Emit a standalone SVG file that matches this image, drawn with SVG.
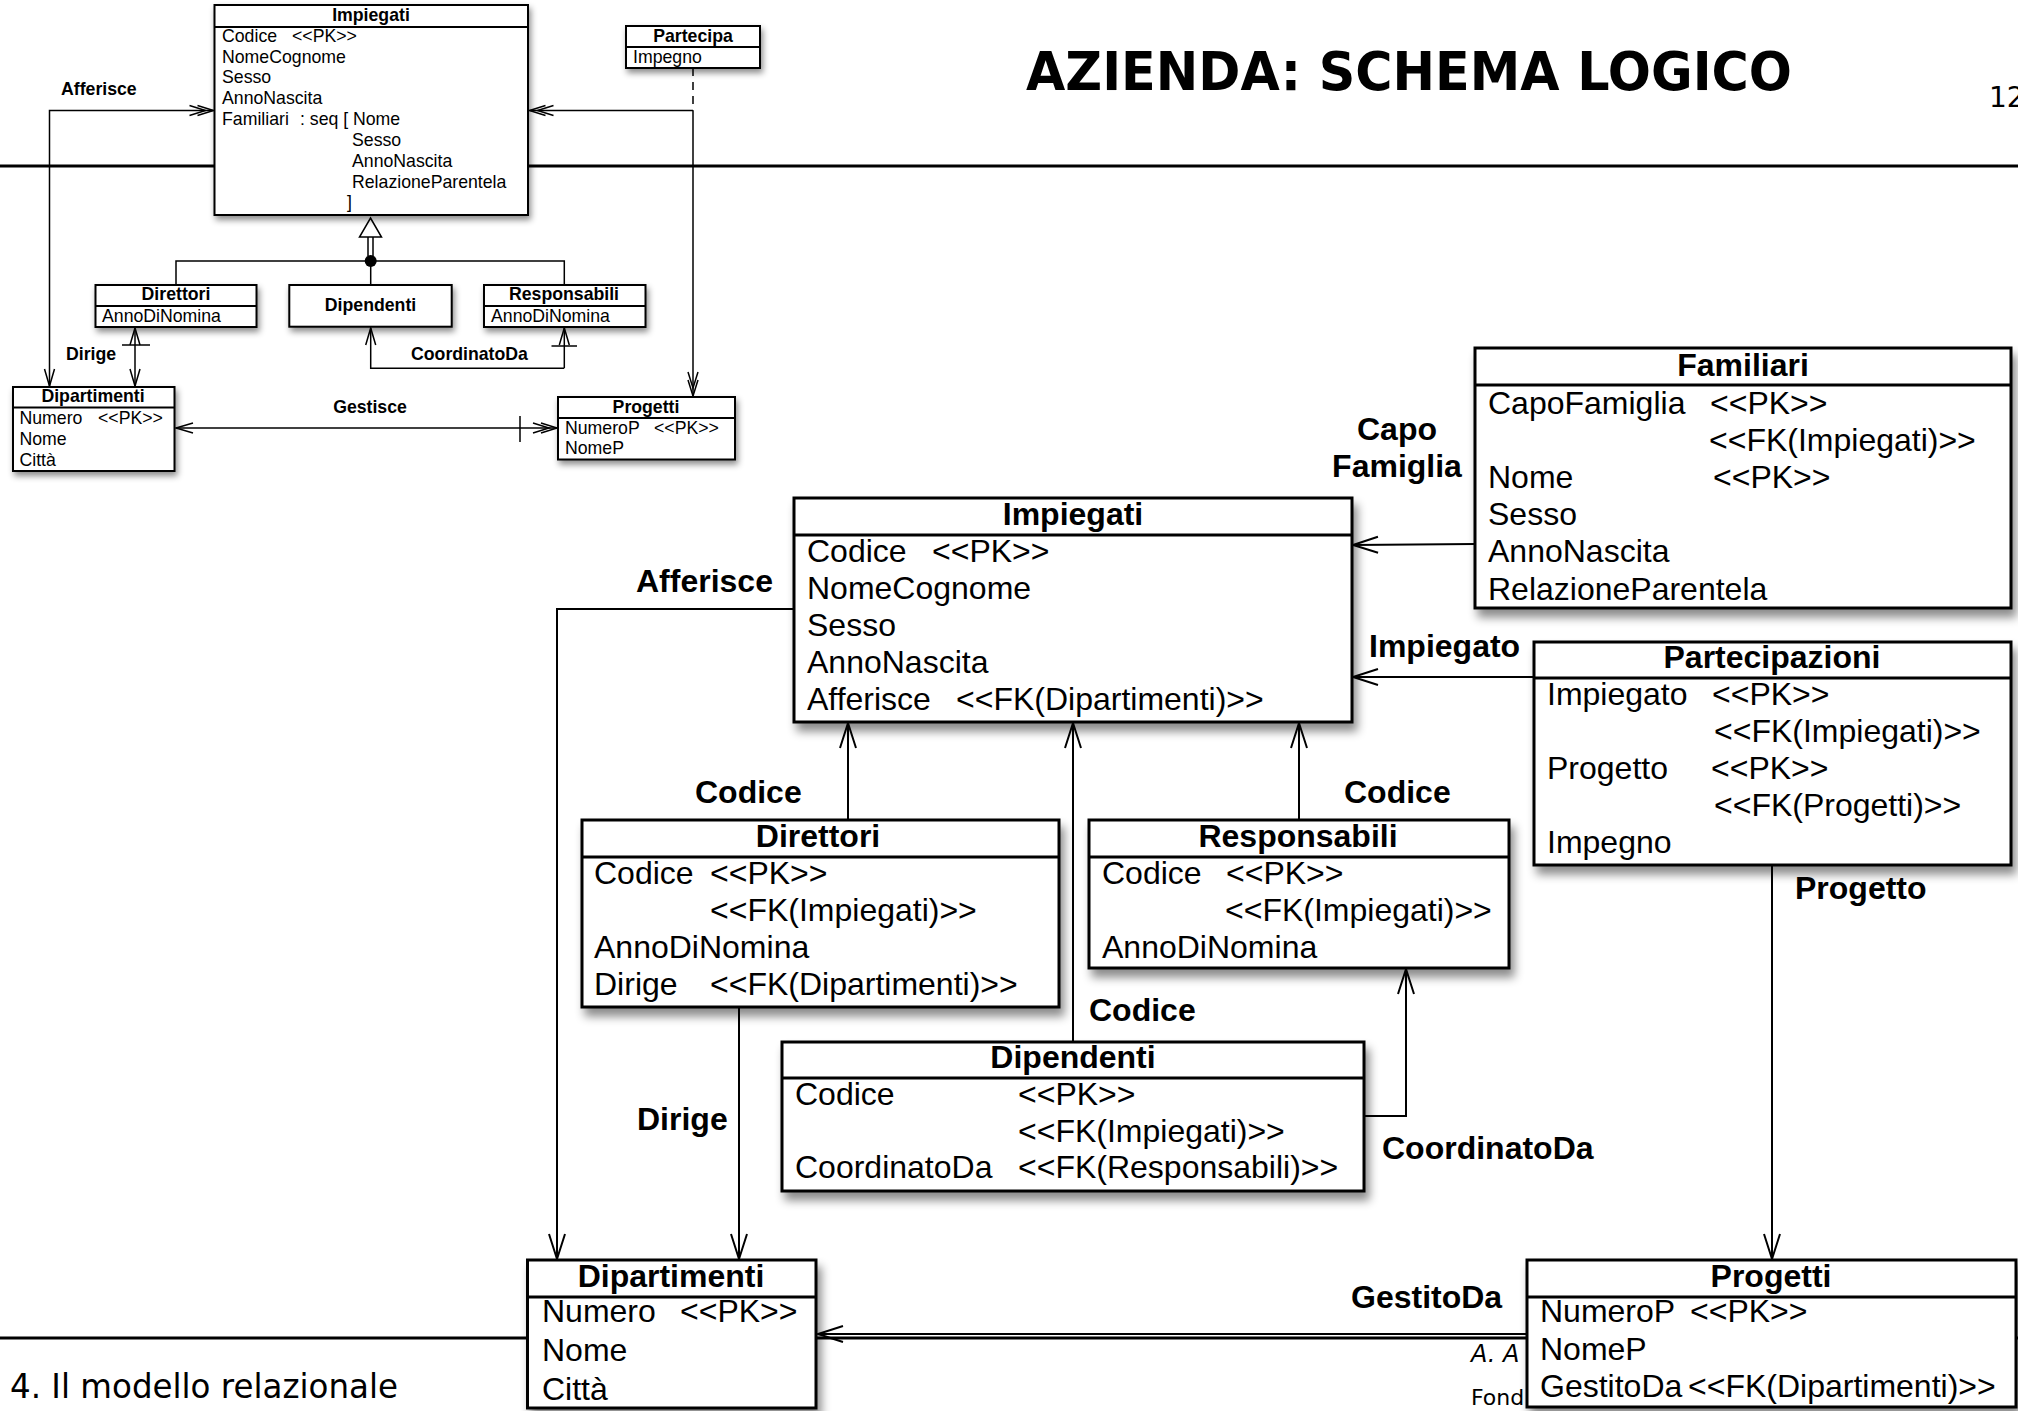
<svg xmlns="http://www.w3.org/2000/svg" width="2018" height="1411" viewBox="0 0 2018 1411">
  <style>
    .bg { fill: #fff; }
    .rule { stroke: #000; stroke-width: 3; fill: none; }
    .box { fill: #fff; stroke: #000; stroke-width: 3; filter: url(#shadow); }
    .sbox { fill: #fff; stroke: #000; stroke-width: 2; filter: url(#sshadow); }
    .sep { stroke: #000; stroke-width: 3; }
    .ssep { stroke: #000; stroke-width: 2; }
    .t { font-family: "Liberation Sans", Arial, Helvetica, sans-serif; font-size: 32px; fill: #000; }
    .s { font-size: 17.7px; }
    .b { font-weight: bold; }
    .mid { text-anchor: middle; }
    .edge { fill: none; stroke: #000; stroke-width: 2; }
    .sedge { fill: none; stroke: #000; stroke-width: 1.5; }
    .hand { font-family: "DejaVu Sans", "Liberation Sans", sans-serif; fill: #000; }
  </style>
  <defs>
    <filter id="shadow" x="-10%" y="-10%" width="130%" height="150%">
      <feDropShadow dx="4" dy="8" stdDeviation="5" flood-color="#000" flood-opacity="0.45"/>
    </filter>
    <filter id="sshadow" x="-10%" y="-10%" width="130%" height="150%">
      <feDropShadow dx="2" dy="4" stdDeviation="3" flood-color="#000" flood-opacity="0.45"/>
    </filter>
    <!-- open arrowheads -->
    <marker id="ah" markerUnits="userSpaceOnUse" viewBox="-30 -10 32 20" markerWidth="32" markerHeight="20" refX="0" refY="0" orient="auto" overflow="visible">
      <path d="M-25,-8 L0,0 L-25,8" fill="none" stroke="#000" stroke-width="2"/>
    </marker>
    <marker id="sa" markerUnits="userSpaceOnUse" viewBox="-20 -8 22 16" markerWidth="22" markerHeight="16" refX="0" refY="0" orient="auto" overflow="visible">
      <path d="M-17,-5 L0,0 L-17,5" fill="none" stroke="#000" stroke-width="1.5"/>
    </marker>
    <marker id="sd" markerUnits="userSpaceOnUse" viewBox="-28 -8 30 16" markerWidth="30" markerHeight="16" refX="0" refY="0" orient="auto" overflow="visible">
      <path d="M-16,-5 L0,0 L-16,5 M-24,-5 L-8,0 L-24,5" fill="none" stroke="#000" stroke-width="1.5"/>
    </marker>
  </defs>

  <rect class="bg" x="0" y="0" width="2018" height="1411"/>

  <!-- slide frame -->
  <g id="slide">
    <path class="rule" d="M0,166 H2018"/>
    <path class="rule" d="M0,1338 H2018"/>
    <text class="hand" x="1026" y="90" font-size="54" font-weight="bold" textLength="766" lengthAdjust="spacingAndGlyphs">AZIENDA: SCHEMA LOGICO</text>
    <text class="hand" x="1989" y="107" font-size="28">12</text>
    <text class="hand" x="10" y="1398" font-size="34" textLength="388" lengthAdjust="spacingAndGlyphs">4. Il modello relazionale</text>
    <text class="hand" x="1471" y="1362" font-size="24" font-style="italic">A. A</text>
    <text class="hand" x="1471" y="1405" font-size="22">Fond</text>
  </g>

  <!-- small UML class diagram -->
  <g id="uml-connectors">
    <path class="sedge" d="M130,110.5 H213.5" marker-end="url(#sd)"/>
    <path class="sedge" d="M130,110.5 H49.5 V386" marker-end="url(#sa)"/>
    <path class="sedge" d="M693,68 V110.5" stroke-dasharray="8 6"/>
    <path class="sedge" d="M693,110.5 H529.5" marker-end="url(#sd)"/>
    <path class="sedge" d="M693,110.5 V396" marker-end="url(#sd)"/>
    <path class="sedge" d="M370.5,218 L381.5,237 L359.5,237 Z" fill="#fff"/>
    <path class="sedge" d="M368,237 V256 M373,237 V256"/>
    <circle cx="370.7" cy="261" r="6" fill="#000"/>
    <path class="sedge" d="M176,285 V261 H564.3 V285 M370.7,261 V285"/>
    <path class="sedge" d="M135,356 V328" marker-end="url(#sa)"/>
    <path class="sedge" d="M135,356 V386" marker-end="url(#sa)"/>
    <path class="sedge" d="M122,345 H150"/>
    <path class="sedge" d="M564.3,368 V328" marker-end="url(#sa)"/>
    <path class="sedge" d="M564.3,368.3 H370.7 V328" marker-end="url(#sa)"/>
    <path class="sedge" d="M551.5,346 H577"/>
    <path class="sedge" d="M366,428 H176" marker-end="url(#sa)"/>
    <path class="sedge" d="M366,428 H557" marker-end="url(#sd)"/>
    <path class="sedge" d="M520,416 V442"/>
    <text class="t s b" x="61" y="95">Afferisce</text>
    <text class="t s b" x="66" y="360">Dirige</text>
    <text class="t s b" x="411" y="360">CoordinatoDa</text>
    <text class="t s b mid" x="370" y="413">Gestisce</text>
  </g>

  <g id="uml-impiegati">
    <rect class="sbox" x="214.5" y="5" width="313.5" height="210"/>
    <line class="ssep" x1="214.5" y1="27" x2="528" y2="27"/>
    <text class="t s b mid" x="371" y="21">Impiegati</text>
    <text class="t s" x="222" y="42">Codice<tspan x="292">&lt;&lt;PK&gt;&gt;</tspan></text>
    <text class="t s" x="222" y="62.7">NomeCognome</text>
    <text class="t s" x="222" y="83.3">Sesso</text>
    <text class="t s" x="222" y="104.3">AnnoNascita</text>
    <text class="t s" x="222" y="125">Familiari<tspan x="300">: seq [</tspan><tspan x="353">Nome</tspan></text>
    <text class="t s" x="352" y="146">Sesso</text>
    <text class="t s" x="352" y="166.7">AnnoNascita</text>
    <text class="t s" x="352" y="187.7">RelazioneParentela</text>
    <text class="t s" x="347" y="208">]</text>
  </g>
  <g id="uml-partecipa">
    <rect class="sbox" x="626" y="26" width="134" height="42"/>
    <line class="ssep" x1="626" y1="47" x2="760" y2="47"/>
    <text class="t s b mid" x="693" y="42">Partecipa</text>
    <text class="t s" x="633" y="63">Impegno</text>
  </g>
  <g id="uml-direttori">
    <rect class="sbox" x="95.5" y="285" width="161" height="42"/>
    <line class="ssep" x1="95.5" y1="306" x2="256.5" y2="306"/>
    <text class="t s b mid" x="176" y="300">Direttori</text>
    <text class="t s" x="102" y="322">AnnoDiNomina</text>
  </g>
  <g id="uml-dipendenti">
    <rect class="sbox" x="289.3" y="285" width="162.4" height="41.7"/>
    <text class="t s b mid" x="370.5" y="310.5">Dipendenti</text>
  </g>
  <g id="uml-responsabili">
    <rect class="sbox" x="484" y="285" width="161.5" height="42"/>
    <line class="ssep" x1="484" y1="306" x2="645.5" y2="306"/>
    <text class="t s b mid" x="564" y="300">Responsabili</text>
    <text class="t s" x="491" y="322">AnnoDiNomina</text>
  </g>
  <g id="uml-dipartimenti">
    <rect class="sbox" x="13" y="387" width="161.5" height="84"/>
    <line class="ssep" x1="13" y1="407.5" x2="174.5" y2="407.5"/>
    <text class="t s b mid" x="93" y="402">Dipartimenti</text>
    <text class="t s" x="19.5" y="423.5">Numero<tspan x="98">&lt;&lt;PK&gt;&gt;</tspan></text>
    <text class="t s" x="19.5" y="445">Nome</text>
    <text class="t s" x="19.5" y="465.5">Città</text>
  </g>
  <g id="uml-progetti">
    <rect class="sbox" x="558" y="397" width="177" height="62.5"/>
    <line class="ssep" x1="558" y1="418" x2="735" y2="418"/>
    <text class="t s b mid" x="646" y="413">Progetti</text>
    <text class="t s" x="565" y="433.5">NumeroP<tspan x="654">&lt;&lt;PK&gt;&gt;</tspan></text>
    <text class="t s" x="565" y="454">NomeP</text>
  </g>

  <!-- relational schema: references -->
  <g id="connectors">
    <path class="edge" d="M794,609 H557 V1259" marker-end="url(#ah)"/>
    <path class="edge" d="M739,1007 V1259" marker-end="url(#ah)"/>
    <path class="edge" d="M848,820 V723" marker-end="url(#ah)"/>
    <path class="edge" d="M1073,1042 V723" marker-end="url(#ah)"/>
    <path class="edge" d="M1299,820 V723" marker-end="url(#ah)"/>
    <path class="edge" d="M1364,1116 H1406 V969" marker-end="url(#ah)"/>
    <path class="edge" d="M1475,544 L1353,545" marker-end="url(#ah)"/>
    <path class="edge" d="M1534,677 H1353" marker-end="url(#ah)"/>
    <path class="edge" d="M1772,865 V1259" marker-end="url(#ah)"/>
    <path class="edge" d="M1527,1334 H818" marker-end="url(#ah)"/>
    <text class="t b" x="636" y="592">Afferisce</text>
    <text class="t b mid" x="1397" y="440">Capo</text>
    <text class="t b mid" x="1397" y="477">Famiglia</text>
    <text class="t b" x="1369" y="657">Impiegato</text>
    <text class="t b" x="695" y="803">Codice</text>
    <text class="t b" x="1344" y="803">Codice</text>
    <text class="t b" x="1795" y="899">Progetto</text>
    <text class="t b" x="1089" y="1021">Codice</text>
    <text class="t b" x="637" y="1130">Dirige</text>
    <text class="t b" x="1382" y="1159">CoordinatoDa</text>
    <text class="t b" x="1351" y="1308">GestitoDa</text>
  </g>

  <g id="impiegati">
    <rect class="box" x="794" y="498" width="558" height="224"/>
    <line class="sep" x1="794" y1="535" x2="1352" y2="535"/>
    <text class="t b mid" x="1073" y="525">Impiegati</text>
    <text class="t" x="807" y="562">Codice<tspan x="932">&lt;&lt;PK&gt;&gt;</tspan></text>
    <text class="t" x="807" y="599">NomeCognome</text>
    <text class="t" x="807" y="636">Sesso</text>
    <text class="t" x="807" y="673">AnnoNascita</text>
    <text class="t" x="807" y="710">Afferisce<tspan x="956">&lt;&lt;FK(Dipartimenti)&gt;&gt;</tspan></text>
  </g>

  <g id="familiari">
    <rect class="box" x="1475" y="348" width="536" height="260"/>
    <line class="sep" x1="1475" y1="385" x2="2011" y2="385"/>
    <text class="t b mid" x="1743" y="376">Familiari</text>
    <text class="t" x="1488" y="414">CapoFamiglia<tspan x="1710">&lt;&lt;PK&gt;&gt;</tspan></text>
    <text class="t" x="1709" y="451">&lt;&lt;FK(Impiegati)&gt;&gt;</text>
    <text class="t" x="1488" y="488">Nome<tspan x="1713">&lt;&lt;PK&gt;&gt;</tspan></text>
    <text class="t" x="1488" y="525">Sesso</text>
    <text class="t" x="1488" y="562">AnnoNascita</text>
    <text class="t" x="1488" y="600">RelazioneParentela</text>
  </g>

  <g id="partecipazioni">
    <rect class="box" x="1534" y="642" width="477" height="223"/>
    <line class="sep" x1="1534" y1="678" x2="2011" y2="678"/>
    <text class="t b mid" x="1772" y="668">Partecipazioni</text>
    <text class="t" x="1547" y="705">Impiegato<tspan x="1712">&lt;&lt;PK&gt;&gt;</tspan></text>
    <text class="t" x="1714" y="742">&lt;&lt;FK(Impiegati)&gt;&gt;</text>
    <text class="t" x="1547" y="779">Progetto<tspan x="1711">&lt;&lt;PK&gt;&gt;</tspan></text>
    <text class="t" x="1714" y="816">&lt;&lt;FK(Progetti)&gt;&gt;</text>
    <text class="t" x="1547" y="853">Impegno</text>
  </g>

  <g id="direttori">
    <rect class="box" x="582" y="820" width="477" height="187"/>
    <line class="sep" x1="582" y1="857" x2="1059" y2="857"/>
    <text class="t b mid" x="818" y="847">Direttori</text>
    <text class="t" x="594" y="884">Codice<tspan x="710">&lt;&lt;PK&gt;&gt;</tspan></text>
    <text class="t" x="710" y="921">&lt;&lt;FK(Impiegati)&gt;&gt;</text>
    <text class="t" x="594" y="958">AnnoDiNomina</text>
    <text class="t" x="594" y="995">Dirige<tspan x="710">&lt;&lt;FK(Dipartimenti)&gt;&gt;</tspan></text>
  </g>

  <g id="responsabili">
    <rect class="box" x="1089" y="820" width="420" height="148"/>
    <line class="sep" x1="1089" y1="857" x2="1509" y2="857"/>
    <text class="t b mid" x="1298" y="847">Responsabili</text>
    <text class="t" x="1102" y="884">Codice<tspan x="1226">&lt;&lt;PK&gt;&gt;</tspan></text>
    <text class="t" x="1225" y="921">&lt;&lt;FK(Impiegati)&gt;&gt;</text>
    <text class="t" x="1102" y="958">AnnoDiNomina</text>
  </g>

  <g id="dipendenti">
    <rect class="box" x="782" y="1042" width="582" height="149"/>
    <line class="sep" x1="782" y1="1078" x2="1364" y2="1078"/>
    <text class="t b mid" x="1073" y="1068">Dipendenti</text>
    <text class="t" x="795" y="1105">Codice<tspan x="1018">&lt;&lt;PK&gt;&gt;</tspan></text>
    <text class="t" x="1018" y="1142">&lt;&lt;FK(Impiegati)&gt;&gt;</text>
    <text class="t" x="795" y="1178">CoordinatoDa<tspan x="1018">&lt;&lt;FK(Responsabili)&gt;&gt;</tspan></text>
  </g>

  <g id="dipartimenti">
    <rect class="box" x="527.5" y="1260" width="288.5" height="148"/>
    <line class="sep" x1="527.5" y1="1297" x2="816" y2="1297"/>
    <text class="t b mid" x="671" y="1287">Dipartimenti</text>
    <text class="t" x="542" y="1322">Numero<tspan x="680">&lt;&lt;PK&gt;&gt;</tspan></text>
    <text class="t" x="542" y="1361">Nome</text>
    <text class="t" x="542" y="1400">Città</text>
  </g>

  <g id="progetti">
    <rect class="box" x="1527" y="1260" width="489" height="147"/>
    <line class="sep" x1="1527" y1="1297" x2="2016" y2="1297"/>
    <text class="t b mid" x="1771" y="1287">Progetti</text>
    <text class="t" x="1540" y="1322">NumeroP<tspan x="1690">&lt;&lt;PK&gt;&gt;</tspan></text>
    <text class="t" x="1540" y="1360">NomeP</text>
    <text class="t" x="1540" y="1397">GestitoDa<tspan x="1688">&lt;&lt;FK(Dipartimenti)&gt;&gt;</tspan></text>
  </g>
</svg>
